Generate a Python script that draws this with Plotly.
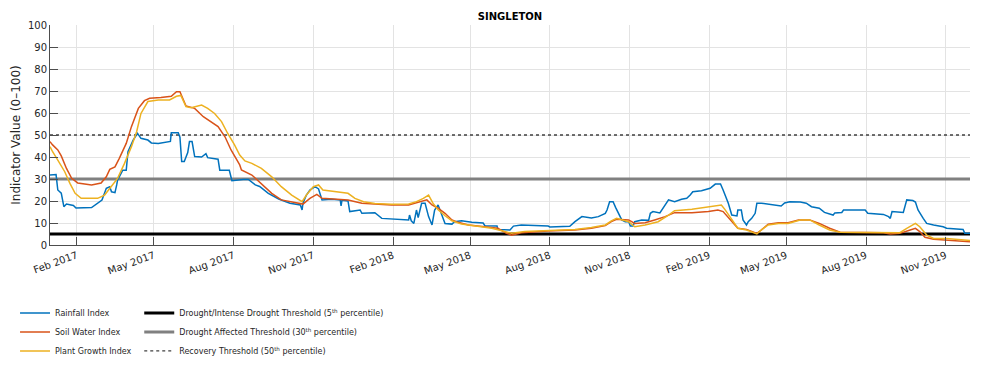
import pandas as pd
import plotly.graph_objects as go

START = pd.Timestamp("2017-01-01")

# Rainfall Index: days since 2017-01-01 and values
rain_day = [0, 7, 9, 13, 16, 19, 27, 30, 48, 55, 60, 65, 69, 71, 75, 77, 78, 84, 88, 90,
            96, 101, 105, 113, 117, 125, 136, 139, 140, 148, 150, 152, 155, 159, 161, 164, 167, 175, 180, 182,
            194, 196, 207, 210, 223, 229, 237, 242, 252, 264, 277, 289, 291, 292, 296, 300, 306, 310, 314, 325,
            335, 336, 337, 344, 346, 358, 360, 375, 383, 406, 414, 415, 417, 420, 423, 425, 429, 433, 437, 441,
            444, 448, 452, 456, 464, 467, 475, 487, 500, 502, 516, 517, 531, 535, 544, 575, 577, 600, 606, 614,
            625, 633, 641, 643, 646, 650, 653, 656, 660, 664, 668, 670, 673, 675, 683, 691, 693, 696, 704, 714,
            721, 729, 735, 739, 742, 752, 762, 768, 774, 777, 783, 787, 793, 794, 798, 800, 804, 806, 810, 814,
            816, 821, 835, 844, 848, 854, 866, 873, 879, 888, 894, 904, 906, 914, 916, 941, 944, 962, 968, 970,
            972, 985, 989, 996, 999, 1002, 1008, 1012, 1020, 1031, 1035, 1054, 1056, 1062]
rain_val = [31.8, 32, 25, 23.6, 17.4, 18.6, 18, 16.8, 17, 18.9, 20.4, 25.8, 26.5, 24.2, 23.8, 27.3, 29.5, 34, 34, 42.4,
            47.7, 50.8, 48.5, 47.7, 46.4, 46.1, 47.1, 47.1, 51, 51, 49, 37.9, 37.9, 42, 47, 47, 40.2, 40, 41.5, 39.7,
            39, 34, 34, 29.2, 29.8, 29.8, 27.3, 26.6, 23.5, 20.9, 19, 18.2, 15.9, 19, 22.7, 25, 26.5, 25.5, 20.5, 20.8,
            20.5, 17.8, 20.3, 20, 15.2, 15.9, 14.4, 14.7, 12.1, 11.7, 11.4, 13.6, 11, 9.8, 15.9, 12.5, 19, 19, 12.9, 9.1,
            15.9, 18.2, 14.4, 9.8, 9.5, 10.6, 11, 10.3, 10, 8.8, 8.6, 7.1, 6.8, 8.6, 9.1, 8.6, 8.2, 8.5, 10.6, 12.9,
            12.3, 12.9, 14.4, 15.9, 19.7, 19.7, 17, 14.4, 11.4, 10.6, 10.6, 8.6, 8.6, 10.6, 11.4, 11.2, 14.4, 15.2, 14.6, 20.5,
            19.7, 20.8, 21.2, 22.7, 24.2, 24.7, 25.8, 27.7, 27.7, 25, 19, 13.6, 13.2, 15.9, 15.9, 11.4, 9.1, 10.6, 12.1, 14.4,
            19, 19, 18.2, 17.7, 19.1, 19.7, 19.5, 19, 17.4, 16.7, 14.8, 13.6, 14.6, 14.8, 15.9, 15.9, 14.4, 13.9, 12.9, 12.1,
            15.2, 14.8, 20.5, 20.2, 19.5, 15.9, 12.1, 9.8, 9.1, 8.3, 7.6, 7.1, 5.3, 5.3]

# Soil Water Index
soil_day = [0, 3, 9, 13, 19, 25, 32, 48, 59, 65, 69, 75, 80, 88, 94, 102, 109, 115, 128, 140,
            146, 150, 157, 167, 177, 186, 194, 202, 209, 219, 221, 233, 244, 256, 267, 281, 292, 300, 308, 314,
            329, 344, 360, 375, 394, 414, 425, 435, 441, 448, 456, 464, 471, 483, 502, 517, 527, 533, 544, 575,
            606, 625, 641, 648, 654, 668, 675, 687, 698, 710, 721, 741, 760, 771, 777, 785, 794, 804, 810, 816,
            821, 829, 841, 852, 864, 877, 888, 900, 912, 923, 962, 970, 981, 993, 999, 1004, 1010, 1020, 1035, 1062]
soil_val = [47, 45.5, 43.2, 40.5, 34.8, 30.3, 28.2, 27.3, 28.2, 31, 34.4, 35.5, 39.4, 46.2, 53.8, 62.1, 65.6, 66.7, 67.1, 67.6,
            69.7, 69.7, 63.2, 62.1, 58.3, 56.1, 53.8, 49.2, 43.2, 36.4, 34.1, 31.8, 28, 23.5, 20.5, 19.3, 18.6, 21.2, 23, 21.2,
            20.8, 20.5, 19, 18.6, 18.2, 18.2, 19.3, 20.5, 18.2, 16.7, 14.4, 11.4, 10.3, 9.1, 8.3, 7.6, 5.3, 4.5, 5.6, 6.4,
            6.8, 7.6, 8.8, 10.6, 11.7, 11.4, 9.8, 10.1, 11.4, 12.9, 14.7, 14.7, 15.2, 15.9, 15.2, 11.4, 7.6, 7.1, 6.1, 5.3,
            6.8, 9.5, 10.1, 10.1, 11.4, 11.4, 9.8, 7.6, 5.8, 5.8, 5.6, 5, 5.3, 6.8, 7.6, 6.1, 3.5, 2.6, 2.3, 1.5]

# Plant Growth Index
plant_day = [0, 3, 9, 17, 23, 29, 36, 55, 63, 71, 78, 86, 94, 100, 105, 113, 125, 138, 146, 151,
             157, 163, 175, 182, 190, 198, 205, 213, 219, 225, 233, 244, 256, 267, 279, 291, 296, 304, 310, 315,
             333, 344, 352, 362, 375, 394, 414, 423, 431, 437, 442, 448, 456, 464, 475, 491, 510, 525, 533, 548,
             575, 606, 625, 641, 648, 654, 668, 675, 687, 702, 714, 721, 741, 760, 775, 779, 787, 794, 804, 810,
             816, 821, 829, 841, 852, 866, 877, 888, 900, 912, 981, 989, 999, 1004, 1012, 1020, 1035, 1062]
plant_val = [44.7, 42.4, 38.6, 33.3, 28, 23.5, 21.2, 21.2, 22.7, 26.5, 30.3, 37.1, 44.7, 51.5, 59.8, 65.2, 65.9, 65.9, 67.6, 68,
             62.9, 62.4, 63.6, 62.1, 59.8, 56.1, 50.8, 45.5, 40.9, 38.2, 37.1, 34.8, 31, 26.5, 22.7, 19.7, 22.7, 26.5, 27.3, 25,
             24.2, 23.5, 21.2, 19.7, 18.9, 18.5, 18.6, 19.7, 21.2, 22.7, 19, 16, 13.3, 11, 9.5, 8.6, 7.6, 6.1, 5.3, 6.1,
             6.5, 7.1, 8, 9.1, 11, 12.1, 10.6, 8.3, 9.1, 10.6, 13.6, 15.6, 16.2, 17.4, 18.2, 16.2, 11.4, 7.6, 6.8, 5.8,
             5, 6.8, 9.1, 9.8, 9.8, 11.4, 11.4, 9.1, 6.8, 5.8, 5.6, 7.6, 9.8, 8.3, 4.5, 3, 3, 2]

series_names = ["Rainfall Index", "Soil Water Index", "Plant Growth Index"]
series_colors = ["#0072BD", "#D95319", "#EDB120"]

threshold_values = [5, 30, 50]
threshold_names = ["Drought/Intense Drought Threshold (5<sup>th</sup> percentile)",
                   "Drought Affected Threshold (30<sup>th</sup> percentile)",
                   "Recovery Threshold (50<sup>th</sup> percentile)"]

tick_labels = ["Feb 2017", "May 2017", "Aug 2017", "Nov 2017", "Feb 2018", "May 2018",
               "Aug 2018", "Nov 2018", "Feb 2019", "May 2019", "Aug 2019", "Nov 2019"]
tick_dates = pd.to_datetime(tick_labels, format="%b %Y")


def to_dates(days):
    return START + pd.to_timedelta(days, unit="D")


x_first = to_dates([0])[0]
x_last = to_dates([1062])[0]

fig = go.Figure()

th_styles = [dict(color="#000000", width=3, dash="solid"),
             dict(color="#808080", width=3, dash="solid"),
             dict(color="#404040", width=1.3, dash="dot")]
for val, name, st in zip(threshold_values, threshold_names, th_styles):
    fig.add_trace(go.Scatter(x=[x_first, x_last], y=[val, val], mode="lines", name=name,
                             line=st, legend="legend2", hoverinfo="skip"))

for days, vals, name, col in zip([rain_day, soil_day, plant_day],
                                 [rain_val, soil_val, plant_val],
                                 series_names, series_colors):
    fig.add_trace(go.Scatter(x=to_dates(days), y=vals, mode="lines", name=name,
                             line=dict(color=col, width=1.5), legend="legend"))

FONT = "DejaVu Sans"
fig.update_layout(
    width=1000, height=365,
    margin=dict(l=50, r=30, t=25, b=120, autoexpand=False),
    paper_bgcolor="white", plot_bgcolor="white",
    font=dict(family=FONT, size=10, color="#262626"),
    title=dict(text="<b>SINGLETON</b>", x=0.51, xanchor="center", y=1 - 16 / 365, yanchor="middle",
               font=dict(family=FONT, size=10, color="#000000")),
    xaxis=dict(range=[x_first, x_last], tickmode="array", tickvals=tick_dates, ticktext=tick_labels,
               tickangle=-20, ticks="inside", ticklen=8, tickcolor="#4d4d4d",
               showline=True, linecolor="#4d4d4d", linewidth=1,
               showgrid=True, gridcolor="#e3e3e3", gridwidth=1, zeroline=False,
               tickfont=dict(size=10, color="#262626"), automargin=False),
    yaxis=dict(range=[0, 100], tickmode="linear", tick0=0, dtick=10,
               ticks="inside", ticklen=8, tickcolor="#4d4d4d",
               showline=True, linecolor="#4d4d4d", linewidth=1,
               showgrid=True, gridcolor="#e3e3e3", gridwidth=1, zeroline=False,
               tickfont=dict(size=10, color="#262626"), automargin=False,
               title=dict(text="Indicator Value (0–100)", font=dict(size=12, color="#262626"), standoff=4)),
    legend=dict(x=-0.038, xanchor="left", y=-0.243, yanchor="top", bgcolor="rgba(0,0,0,0)",
                font=dict(family=FONT, size=8, color="#262626"), itemwidth=30, tracegroupgap=0),
    legend2=dict(x=0.097, xanchor="left", y=-0.243, yanchor="top", bgcolor="rgba(0,0,0,0)",
                 font=dict(family=FONT, size=8, color="#262626"), itemwidth=30, tracegroupgap=0),
    showlegend=True,
)

fig.write_html("out.html")
